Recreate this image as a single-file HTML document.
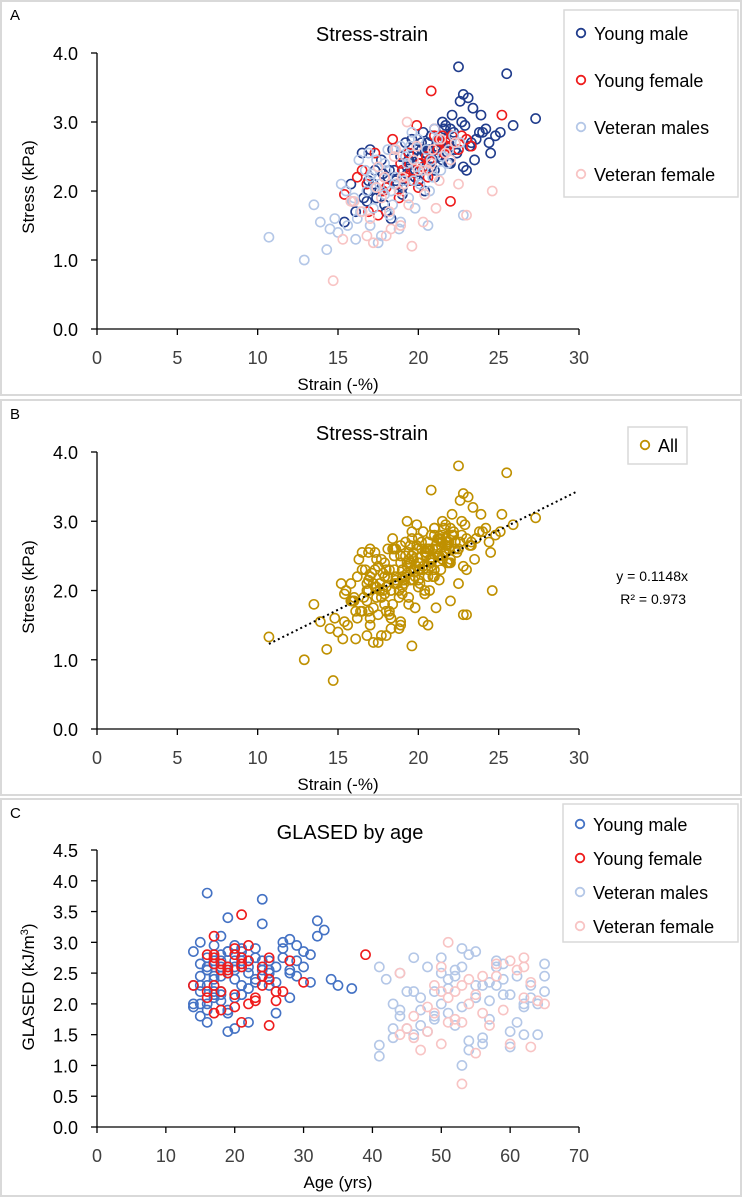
<!DOCTYPE html>
<html><head><meta charset="utf-8"><style>
body{margin:0;background:#fff}
svg{display:block;font-family:"Liberation Sans",sans-serif}
</style></head><body>
<svg id="c" width="744" height="1197" xmlns="http://www.w3.org/2000/svg"></svg>
<script>
// Young male: strain, stress, age
const ymStrain=[22.5,25.5,27.3,22.8,23.1,21.5,20.8,19.9,18.5,17.2,16.1,15.4,18.9,19.5,20.2,21.1,22.0,23.4,24.2,21.7,20.5,19.3,18.1,17.6,16.8,19.8,20.9,22.3,23.8,24.8,21.3,20.1,18.7,17.9,16.5,19.1,20.6,21.9,22.6,23.2,18.3,17.4,19.6,20.4,21.6,22.9,24.5,25.9,15.8,17.0,18.0,19.0,20.0,21.0,22.1,23.0,16.9,19.7,21.4,20.3,
18.2,19.4,20.7,21.8,22.4,23.6,19.0,20.0,21.2,22.2,17.8,18.6,19.9,20.8,21.5,22.7,23.3,24.0,16.6,17.7,19.2,20.4,21.7,22.8,18.9,20.6,21.0,19.6,23.9,17.3,18.4,22.0,20.2,21.9,19.3,24.4,15.9,16.9,25.1,23.5];
const ymStress=[3.8,3.7,3.05,3.4,3.35,3.0,2.8,2.6,2.3,2.1,1.7,1.55,2.5,2.4,2.7,2.65,2.9,3.2,2.9,2.75,2.55,2.35,2.2,2.0,1.85,2.2,2.45,2.6,2.85,2.8,2.5,2.3,2.1,1.8,2.55,2.15,2.6,2.4,3.3,2.65,1.6,1.9,2.75,2.0,2.9,2.95,2.55,2.95,2.1,2.6,1.7,1.95,2.15,2.3,3.1,2.3,2.0,2.55,2.7,2.85,
2.3,2.45,2.6,2.7,2.55,2.75,2.05,2.4,2.5,2.85,2.25,2.15,2.6,2.35,2.45,3.0,2.7,2.85,1.9,2.45,2.7,2.55,2.95,2.35,2.5,2.7,2.2,2.5,3.1,2.3,2.6,2.4,2.6,2.7,2.25,2.7,1.85,2.15,2.85,2.45];
const ymAge=[16,24,28,19,32,15,18,22,14,20,16,19,25,17,29,15,21,33,27,16,20,23,18,14,26,17,24,30,19,31,22,16,28,15,25,21,18,34,24,17,20,19,27,15,23,29,16,20,17,26,22,14,18,25,32,21,16,28,24,19,
15,17,19,21,16,23,18,20,25,14,22,17,19,26,15,27,18,21,16,29,20,24,17,31,19,22,15,28,18,35,16,23,20,17,37,25,19,21,30,18];
const yfStrain=[20.8,25.2,21.5,19.9,18.4,17.3,16.5,15.4,22.0,21.2,20.5,19.2,18.0,16.9,22.3,21.8,20.1,19.5,18.8,17.8,21.0,22.5,20.7,19.0,16.2,23.0,21.6,20.3,18.6,17.5,
21.3,21.7,22.1,20.9,21.5,19.7,18.9,20.0,22.7,17.9,19.4,21.0,16.8,23.3,20.6];
const yfStress=[3.45,3.1,2.8,2.95,2.75,2.55,2.3,1.95,1.85,2.6,2.5,2.2,2.05,1.7,2.7,2.65,2.4,2.15,1.9,2.0,2.8,2.6,2.45,2.3,2.2,2.75,2.55,2.35,2.1,1.65,
2.75,2.65,2.8,2.6,2.7,2.3,2.4,2.05,2.8,2.2,2.55,2.9,2.1,2.65,2.2];
const yfAge=[21,17,39,22,25,18,14,20,17,24,19,16,23,21,28,17,25,20,18,22,16,19,24,17,26,21,18,30,23,25,
17,18,20,21,22,24,25,26,17,18,19,20,16,21,27];
const vmStrain=[10.7,12.9,14.3,13.5,15.2,16.1,17.0,18.2,19.4,20.3,21.5,22.6,16.8,17.5,18.8,19.8,20.9,14.8,15.9,17.3,18.5,19.1,20.6,21.8,16.4,17.9,19.6,22.8,15.5,18.0,19.2,20.1,16.9,17.7,21.2,13.9,15.0,18.4,19.9,17.1,20.4,16.2,18.9,21.0,17.4,
16.0,17.6,18.6,19.3,20.5,21.4,17.2,18.1,19.7,20.8,15.6,16.7,18.3,19.5,21.9,17.0,18.9,20.0,16.3,22.2,14.5,17.9,19.0,20.7,18.5];
const vmStress=[1.33,1.0,1.15,1.8,2.1,1.3,1.5,1.65,1.9,2.3,2.5,2.7,2.0,1.25,1.45,1.75,2.2,1.6,1.85,2.05,2.6,2.15,1.5,2.4,1.7,1.95,2.85,1.65,2.0,2.3,2.5,2.1,2.55,1.35,2.75,1.55,1.4,1.8,2.35,2.25,1.95,1.6,2.65,2.9,2.45,
1.9,2.1,2.2,2.4,2.6,2.3,1.75,2.6,2.15,2.45,1.5,2.3,2.0,2.65,2.6,2.2,1.55,2.75,2.45,2.8,1.45,2.4,2.2,2.0,2.1];
const vmAge=[41,53,41,44,55,60,46,52,47,56,50,58,62,54,43,49,65,45,51,57,48,59,64,42,61,53,55,47,50,58,44,63,52,56,46,60,54,49,57,51,62,43,59,53,65,
44,47,49,51,53,55,57,58,60,61,62,63,64,65,41,45,48,50,52,54,56,59,46,43,55];
const vfStrain=[14.7,15.3,17.2,18.0,18.9,19.6,20.3,21.1,22.5,23.0,24.6,16.5,17.7,19.0,20.8,21.7,18.3,19.9,16.0,17.4,20.0,22.0,18.6,19.3,21.4,17.0,
17.9,18.8,19.4,20.6,21.3,16.8,18.2,19.7,20.9,22.3,17.5,19.1,20.4,15.8,18.5];
const vfStress=[0.7,1.3,1.25,1.35,1.5,1.2,1.55,1.75,2.1,1.65,2.0,1.7,1.9,2.2,2.4,2.55,1.45,2.65,1.85,2.05,2.3,2.45,2.6,3.0,2.75,1.6,
2.2,2.0,1.8,2.3,2.15,1.35,1.7,2.45,2.6,2.7,2.35,2.1,1.95,1.85,2.5];
const vfAge=[53,63,47,60,44,55,48,52,62,57,65,51,59,50,54,61,46,58,49,64,53,56,50,51,62,45,
52,54,46,49,55,50,53,58,62,60,63,51,48,56,44];
const slope=0.1148;
const strainTicks=[0,5,10,15,20,25,30];
const stressTicks=[0,1,2,3,4];
const ageTicks=[0,10,20,30,40,50,60,70];
const glasedTicks=[0,0.5,1,1.5,2,2.5,3,3.5,4,4.5];

const NS="http://www.w3.org/2000/svg";
const svg=document.getElementById('c');
function el(tag,attrs,parent,text){const e=document.createElementNS(NS,tag);for(const k in attrs)e.setAttribute(k,attrs[k]);if(text!==undefined)e.textContent=text;(parent||svg).appendChild(e);return e;}

function panel(o){
  const g=el('g',{});
  
  
  const fr=el('rect',{x:1,y:o.by,width:740,height:o.bh,fill:'#fff',stroke:'#d9d9d9','stroke-width':2},g);
  
  
  const lt=el('text',{x:10,y:o.by+19,'font-size':15,fill:'#000'},g,o.letter);
  
  
  const X=v=>o.x0+(v-o.xmin)/(o.xmax-o.xmin)*(o.x1-o.x0);
  const Y=v=>o.y0-(v-o.ymin)/(o.ymax-o.ymin)*(o.y0-o.y1);
  const ax=el('line',{x1:o.x0,x2:o.x1,y1:o.y0,y2:o.y0,stroke:'#000','stroke-width':1.3},g);
  
  
  const ay=el('line',{x1:o.x0,x2:o.x0,y1:o.y0,y2:o.y1,stroke:'#000','stroke-width':1.3},g);
  
  
  o.xticks.forEach(t=>{
    const tk=el('line',{x1:X(t),x2:X(t),y1:o.y0,y2:o.y0+6,stroke:'#000','stroke-width':1.3},g);
    
    
    const e=el('text',{x:X(t),y:o.y0+35,'font-size':18,fill:'#404040','text-anchor':'middle'},g,String(t));
    
    });
  o.yticks.forEach(t=>{
    const tk=el('line',{x1:o.x0-6,x2:o.x0,y1:Y(t),y2:Y(t),stroke:'#000','stroke-width':1.3},g);
    
    
    const e=el('text',{x:o.x0-19,y:Y(t)+7,'font-size':18,fill:'#000','text-anchor':'end'},g,t.toFixed(1));
    
    });
  const t=el('text',{x:o.tx,y:o.by+40,'font-size':20,fill:'#000','text-anchor':'middle'},g,o.title);
  
  
  const xt=el('text',{x:(o.x0+o.x1)/2,y:o.y0+61,'font-size':17,fill:'#000','text-anchor':'middle'},g,o.xtitle);
  
  
  const yc=o.ytc;
  const yt=el('text',{x:34,y:yc,'font-size':17,fill:'#000','text-anchor':'middle',transform:`rotate(-90 34 ${yc})`},g,'');
  yt.innerHTML=o.ytitle;
  
  
  o.series.forEach(s=>{
    const sg=el('g',{},g);
    
    
    s.xs.forEach((xv,i)=>{const c=el('circle',{cx:X(xv),cy:Y(s.ys[i]),r:4.6,fill:'none',stroke:s.color,'stroke-width':1.6},sg);
      
      });
  });
  if(o.trend){
    const l=el('line',{x1:X(10.7),y1:Y(10.7*slope),x2:X(29.8),y2:Y(29.8*slope),stroke:'#000','stroke-width':2,'stroke-dasharray':'2,3'},g);
    
    
    const e1=el('text',{x:688,y:o.by+181,'font-size':14,fill:'#000','text-anchor':'end'},g,'y = 0.1148x');
    
    
    const e2=el('text',{x:686,y:o.by+204,'font-size':14,fill:'#000','text-anchor':'end'},g,'R² = 0.973');
    
    
  }
  const L=o.legend;
  const lg=el('g',{},g);
  
  
  const lb=el('rect',{x:L.x,y:L.y,width:L.w,height:L.h,fill:'#fff',stroke:'#d9d9d9','stroke-width':1.5},lg);
  
  
  o.series.forEach((s,i)=>{
    const cy=L.y+L.first+i*L.step;
    const c=el('circle',{cx:L.x+17,cy:cy,r:4.3,fill:'none',stroke:s.color,'stroke-width':1.8},lg);
    
    
    const tx=el('text',{x:L.x+30,y:cy+7,'font-size':18,fill:'#000'},lg,s.label);
    
    
  });
}
panel({name:'panel-a',letter:'A',by:1,bh:394,title:'Stress-strain',tx:372,xtitle:'Strain (-%)',ytitle:'Stress (kPa)',ytc:187,
  x0:97,x1:579,xmin:0,xmax:30,y0:329,y1:53,ymin:0,ymax:4,xticks:strainTicks,yticks:stressTicks,
  legend:{x:564,y:10,w:174,h:187,first:23,step:47},
  series:[{key:'ym',label:'Young male',color:'#203c8c',xs:ymStrain,ys:ymStress},
          {key:'yf',label:'Young female',color:'#ee1c1c',xs:yfStrain,ys:yfStress},
          {key:'vm',label:'Veteran males',color:'#b4c7e7',xs:vmStrain,ys:vmStress},
          {key:'vf',label:'Veteran female',color:'#f8c4c4',xs:vfStrain,ys:vfStress}]
});
panel({name:'panel-b',letter:'B',by:400,bh:395,title:'Stress-strain',tx:372,xtitle:'Strain (-%)',ytitle:'Stress (kPa)',ytc:587,
  x0:97,x1:579,xmin:0,xmax:30,y0:729,y1:452,ymin:0,ymax:4,xticks:strainTicks,yticks:stressTicks,trend:true,
  legend:{x:628,y:427,w:59,h:37,first:18,step:0},
  series:[{key:'all',label:'All',color:'#bf9000',xs:ymStrain.concat(yfStrain,vmStrain,vfStrain),ys:ymStress.concat(yfStress,vmStress,vfStress)}]
});
panel({name:'panel-c',letter:'C',by:799,bh:397,title:'GLASED by age',tx:350,xtitle:'Age (yrs)',ytitle:'GLASED (kJ/m<tspan baseline-shift="super" font-size="11">3</tspan>)',ytc:987,
  x0:97,x1:579,xmin:0,xmax:70,y0:1127,y1:850,ymin:0,ymax:4.5,xticks:ageTicks,yticks:glasedTicks,
  legend:{x:563,y:804,w:175,h:138,first:20,step:34},
  series:[{key:'ym',label:'Young male',color:'#4472c4',xs:ymAge,ys:ymStress},
          {key:'yf',label:'Young female',color:'#ee1c1c',xs:yfAge,ys:yfStress},
          {key:'vm',label:'Veteran males',color:'#b4c7e7',xs:vmAge,ys:vmStress},
          {key:'vf',label:'Veteran female',color:'#f8c4c4',xs:vfAge,ys:vfStress}]
});
</script>
</body></html>
